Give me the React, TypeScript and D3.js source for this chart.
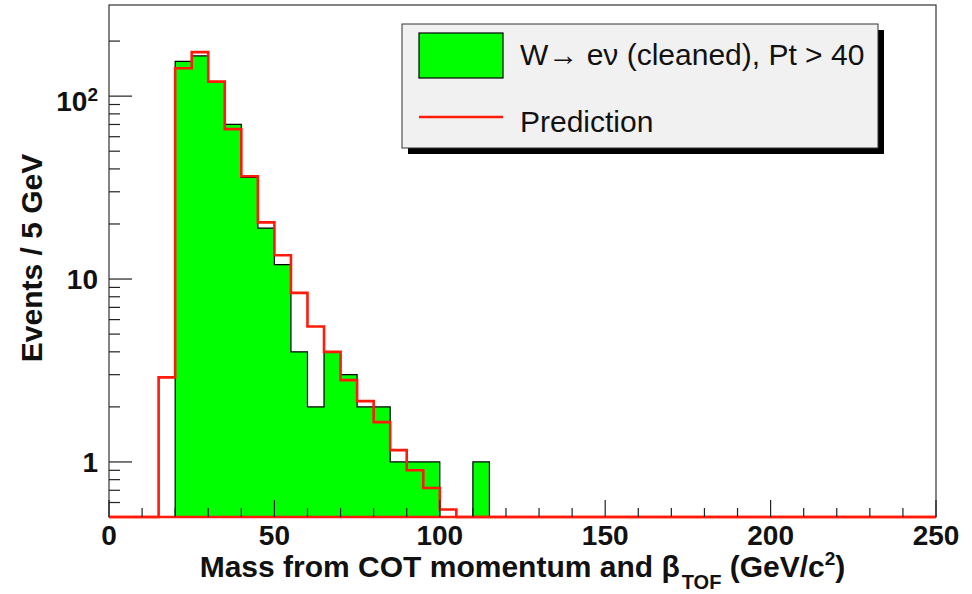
import React from 'react';
import * as d3 from 'd3';

// ---- data ----
const binLow = [0, 5, 10, 15, 20, 25, 30, 35, 40, 45, 50, 55, 60, 65, 70, 75, 80, 85, 90, 95, 100, 105, 110, 115, 120, 125, 130, 135, 140, 145, 150, 155, 160, 165, 170, 175, 180, 185, 190, 195, 200, 205, 210, 215, 220, 225, 230, 235, 240, 245];
const binWidth = 5;
const observed = [0, 0, 0, 0, 155, 166, 119, 70, 36, 19, 12, 4, 2, 4, 3, 2, 2, 1, 1, 1, 0, 0, 1, 0, 0, 0, 0, 0, 0, 0, 0, 0, 0, 0, 0, 0, 0, 0, 0, 0, 0, 0, 0, 0, 0, 0, 0, 0, 0, 0];
const prediction = [0, 0, 0, 2.9, 142, 174, 120, 66, 36.5, 20.4, 13.5, 8.4, 5.5, 4.0, 2.8, 2.15, 1.65, 1.16, 0.9, 0.72, 0.55, 0, 0, 0, 0, 0, 0, 0, 0, 0, 0, 0, 0, 0, 0, 0, 0, 0, 0, 0, 0, 0, 0, 0, 0, 0, 0, 0, 0, 0];
const xMajorTicks = [0, 50, 100, 150, 200, 250];
const xMinorTicks = [10, 20, 30, 40, 60, 70, 80, 90, 110, 120, 130, 140, 160, 170, 180, 190, 210, 220, 230, 240];
const yMajorTicks = [1, 10, 100];
const yMajorLabels = [['1', ''], ['10', ''], ['10', '2']];
const yMinorTicks = [0.6, 0.7, 0.8, 0.9, 2, 3, 4, 5, 6, 7, 8, 9, 20, 30, 40, 50, 60, 70, 80, 90, 200];
const legendLabels = ['W\u2192 e\u03bd (cleaned), Pt > 40', 'Prediction'];
const xTitle = ['Mass from COT momentum and \u03b2', 'TOF', ' (GeV/c', '2', ')'];
const yTitle = 'Events / 5 GeV';

// ---- layout ----
const W = 972, H = 594;
const L = 109, R = 936, T = 5, B = 517;
const FONT = "'Liberation Sans', Arial, Helvetica, sans-serif";

export default function App() {
  const x = d3.scaleLinear().domain([0, 250]).range([L, R]);
  const y = d3.scaleLog().domain([0.5, 315]).range([B, T]).clamp(true);

  const stepPts = (vals: number[]) =>
    binLow.flatMap((lo, i) => [
      [lo, vals[i]] as [number, number],
      [lo + binWidth, vals[i]] as [number, number],
    ]);

  const obsPts = stepPts(observed);
  const predPts = stepPts(prediction);

  const area = d3.area<[number, number]>()
    .x(d => x(d[0]))
    .y0(B)
    .y1(d => y(d[1]));
  const line = d3.line<[number, number]>()
    .x(d => x(d[0]))
    .y(d => y(d[1]));

  return (
    <svg width={W} height={H} style={{ position: 'absolute', left: 0, top: 0, background: '#fff' }} fontFamily={FONT}>
      <rect x={0} y={0} width={W} height={H} fill="#fff" />
      {/* histogram */}
      <path d={area(obsPts) || ''} fill="#00ff00" stroke="none" />
      <path d={line(obsPts) || ''} fill="none" stroke="#000" strokeWidth={1.2} />
      <path d={line(predPts) || ''} fill="none" stroke="#ff1a0a" strokeWidth={2.6} />

      {/* frame */}
      <rect x={L} y={T} width={R - L} height={B - T} fill="none" stroke="#333" strokeWidth={1.2} />
      <line x1={L} x2={R} y1={B} y2={B} stroke="#ff1a0a" strokeWidth={2.6} />

      {/* x ticks */}
      {xMajorTicks.map(t => (
        <line key={'xM' + t} x1={x(t)} x2={x(t)} y1={B} y2={B - 17} stroke="#222" strokeWidth={1.2} />
      ))}
      {xMinorTicks.map(t => (
        <line key={'xm' + t} x1={x(t)} x2={x(t)} y1={B} y2={B - 9} stroke="#222" strokeWidth={1.2} />
      ))}
      {xMajorTicks.map(t => (
        <text key={'xl' + t} x={x(t)} y={545} textAnchor="middle" fontSize={28} fontWeight="bold" fill="#111">{t}</text>
      ))}

      {/* y ticks */}
      {yMajorTicks.map(t => (
        <line key={'yM' + t} x1={L} x2={L + 23} y1={y(t)} y2={y(t)} stroke="#222" strokeWidth={1.2} />
      ))}
      {yMinorTicks.map(t => (
        <line key={'ym' + t} x1={L} x2={L + 11} y1={y(t)} y2={y(t)} stroke="#222" strokeWidth={1.2} />
      ))}
      {yMajorTicks.map((t, i) => (
        <text key={'yl' + t} x={98} y={y(t) + (yMajorLabels[i][1] ? 15 : 10)} textAnchor="end" fontSize={28} fontWeight="bold" fill="#111">
          {yMajorLabels[i][0]}
          {yMajorLabels[i][1] ? <tspan dy={-10} fontSize={19}>{yMajorLabels[i][1]}</tspan> : null}
        </text>
      ))}

      {/* axis titles */}
      <text x={(L + R) / 2} y={577} textAnchor="middle" fontSize={30} fontWeight="bold" fill="#111">
        {xTitle[0]}
        <tspan dx={2} dy={12} fontSize={20}>{xTitle[1]}</tspan>
        <tspan dy={-12} fontSize={30}>{xTitle[2]}</tspan>
        <tspan dy={-12} fontSize={19}>{xTitle[3]}</tspan>
        <tspan dy={12} fontSize={30}>{xTitle[4]}</tspan>
      </text>
      <text transform={`translate(42,258) rotate(-90)`} textAnchor="middle" fontSize={30} fontWeight="bold" fill="#111">{yTitle}</text>

      {/* legend */}
      <rect x={408} y={30} width={476} height={124} fill="#000" />
      <rect x={402} y={24} width={476} height={124} fill="#f1f1f1" stroke="#333" strokeWidth={1} />
      <rect x={419} y={33} width={84} height={45} fill="#00ff00" stroke="#000" strokeWidth={1.2} />
      <line x1={419} x2={503} y1={117} y2={117} stroke="#ff1a0a" strokeWidth={2.6} />
      <text x={520} y={65} fontSize={30} fill="#111">{legendLabels[0]}</text>
      <text x={520} y={132} fontSize={30} fill="#111">{legendLabels[1]}</text>
    </svg>
  );
}
